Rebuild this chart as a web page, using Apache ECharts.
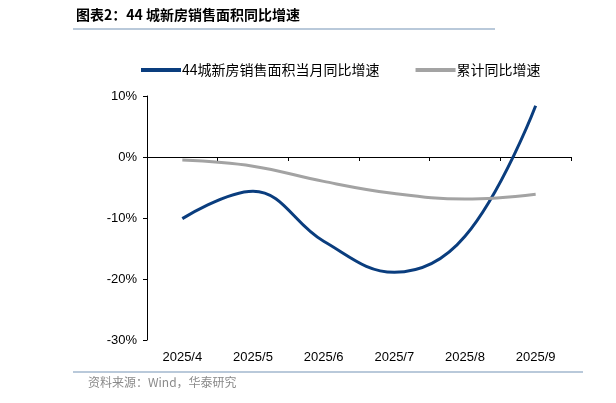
<!DOCTYPE html>
<html><head><meta charset="utf-8">
<script src="https://cdn.jsdelivr.net/npm/echarts@6/dist/echarts.min.js"></script>
<style>html,body{margin:0;padding:0;background:#fff}#c{width:616px;height:403px}</style>
</head><body><div id="c"></div>
<script>
const categories = ['2025/4','2025/5','2025/6','2025/7','2025/8','2025/9'];
const monthlyYoY = [-10.1, -5.6, -13.8, -18.9, -13.0, 8.4];
const cumulativeYoY = [-0.5, -1.5, -4.0, -6.0, -6.9, -6.1];
const seriesNames = ['44城新房销售面积当月同比增速', '累计同比增速'];
const yTicks = {min: -30, max: 10, interval: 10};

const chart = echarts.init(document.getElementById('c'));
chart.setOption({
  animation: false,
  textStyle: {fontFamily: 'Liberation Sans, Arial, sans-serif'},
  graphic: [
    {type: 'text', left: 76, top: 8, style: {text: '图表2：44 城新房销售面积同比增速', font: 'bold 14px "Noto Sans CJK SC"', fill: '#000'}},
    {type: 'line', shape: {x1: 73, y1: 29, x2: 495, y2: 29}, style: {stroke: '#b9c9da', lineWidth: 2}},
    {type: 'line', shape: {x1: 73, y1: 372, x2: 583, y2: 372}, style: {stroke: '#b9c9da', lineWidth: 2}},
    {type: 'text', left: 88, top: 376, style: {text: '资料来源：Wind，华泰研究', font: '12px "Noto Sans CJK SC"', fill: '#8a8a8a'}}
  ],
  legend: {
    left: 136, top: 58, itemWidth: 40, itemHeight: 4, itemGap: 36, icon: 'rect',
    textStyle: {fontSize: 14, color: '#000', fontFamily: '"Noto Sans CJK SC"', padding: [0,0,0,-4]},
    data: seriesNames
  },
  grid: {left: 147, right: 45, top: 96, bottom: 63},
  xAxis: [
    {type: 'category', data: categories, boundaryGap: true,
     axisLine: {onZero: true, lineStyle: {color: '#000', width: 1}},
     axisTick: {show: true, length: 4, interval: 0, lineStyle: {color: '#000'}},
     axisLabel: {show: false}},
    {type: 'category', data: categories, boundaryGap: true, position: 'bottom',
     axisLine: {show: false, onZero: false}, axisTick: {show: false},
     axisLabel: {show: true, color: '#000', fontSize: 13, margin: 11}}
  ],
  yAxis: {
    type: 'value', min: yTicks.min, max: yTicks.max, interval: yTicks.interval,
    axisLine: {show: true, lineStyle: {color: '#000'}},
    axisTick: {show: true, length: 4, lineStyle: {color: '#000'}},
    splitLine: {show: false},
    axisLabel: {formatter: '{value}%', color: '#000', fontSize: 13, margin: 10}
  },
  series: [
    {name: seriesNames[0], type: 'line', data: monthlyYoY, smooth: 0.4, symbol: 'none',
     lineStyle: {color: '#0a3d7e', width: 3}, itemStyle: {color: '#0a3d7e'}},
    {name: seriesNames[1], type: 'line', data: cumulativeYoY, smooth: 0.4, symbol: 'none',
     lineStyle: {color: '#a3a3a3', width: 3}, itemStyle: {color: '#a3a3a3'}}
  ]
});
</script></body></html>
